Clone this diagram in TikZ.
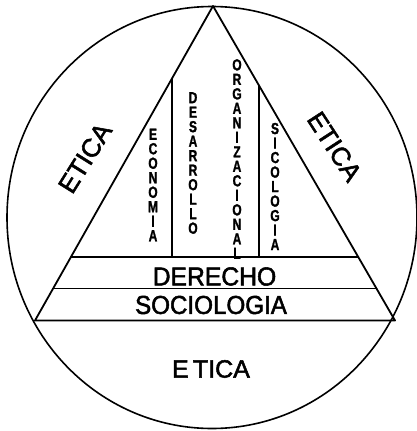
\documentclass[tikz,border=0pt]{standalone}
\usepackage{fontspec}
\usepackage{graphicx}
\setmainfont{Liberation Sans}
\newfontfamily\medfont[FakeBold=2]{Liberation Sans}
\newfontfamily\heavyfont[FakeBold=1.5]{Liberation Sans Bold}
\usetikzlibrary{calc}
\makeatletter
\def\vl@loop#1{\ifx#1\relax\else\hbox to 12pt{\hss\scalebox{.75}[1]{#1}\hss}\expandafter\vl@loop\fi}
\newcommand\vstacktext[1]{\vbox{\baselineskip=14.5pt\lineskiplimit=-\maxdimen\vl@loop#1\relax}}
\makeatother
\tikzset{
  lines/.style={line width=1.8pt, line join=round, line cap=round},
  bigtext/.style={font=\medfont\fontsize{26}{26}\selectfont, inner sep=0pt},
  coltext/.style={font=\heavyfont\fontsize{16}{14.5}\selectfont, inner sep=0pt}
}
\begin{document}
\begin{tikzpicture}[x=1pt,y=-1pt]
\useasboundingbox (0,0) rectangle (417,431);
% circle
\draw[lines, line width=1.6pt] (212,217.5) ellipse [x radius=205, y radius=211];
% triangle
\coordinate (A) at (213,6);
\coordinate (L) at (35,320.5);
\coordinate (R) at (395,320.5);
\draw[lines] (L) -- (A) -- (R) -- cycle;
% bands
\coordinate (h1l) at ($(A)!0.798!(L)$);
\coordinate (h1r) at ($(A)!0.798!(R)$);
\coordinate (h2l) at ($(A)!0.898!(L)$);
\coordinate (h2r) at ($(A)!0.898!(R)$);
\draw[lines] (h1l) -- (h1r);
\draw[lines] (h2l) -- (h2r);
% columns
\coordinate (v1) at ($(A)!0.2303!(L)$);
\coordinate (v2) at ($(A)!0.2527!(R)$);
\draw[lines] (v1) -- (v1 |- h1l);
\draw[lines] (v2) -- (v2 |- h1l);
% texts
\node[bigtext] (derecho) at (214.5,276.5) {\scalebox{0.95}[1]{DERECHO}};
\node[bigtext] (socio) at (211,305) {\scalebox{0.93}[1]{SOCIOLOGIA}};
\node[bigtext, font=\medfont\fontsize{25}{25}\selectfont] (eticab) at (211,369) {E\,TICA};
\node[bigtext, rotate=58] (etical) at (85,158) {ETICA};
\node[bigtext, rotate=-57] (eticar) at (334.5,146.5) {ETICA};
\node[coltext] (econ) at (153,185) {\vstacktext{ECONOMIA}};
\node[coltext] (desa) at (193,163) {\vstacktext{DESARROLLO}};
\node[coltext] (orga) at (237,159) {\vstacktext{ORGANIZACIONAL}};
\node[coltext] (sico) at (275,186.5) {\vstacktext{SICOLOGIA}};
\end{tikzpicture}
\end{document}
